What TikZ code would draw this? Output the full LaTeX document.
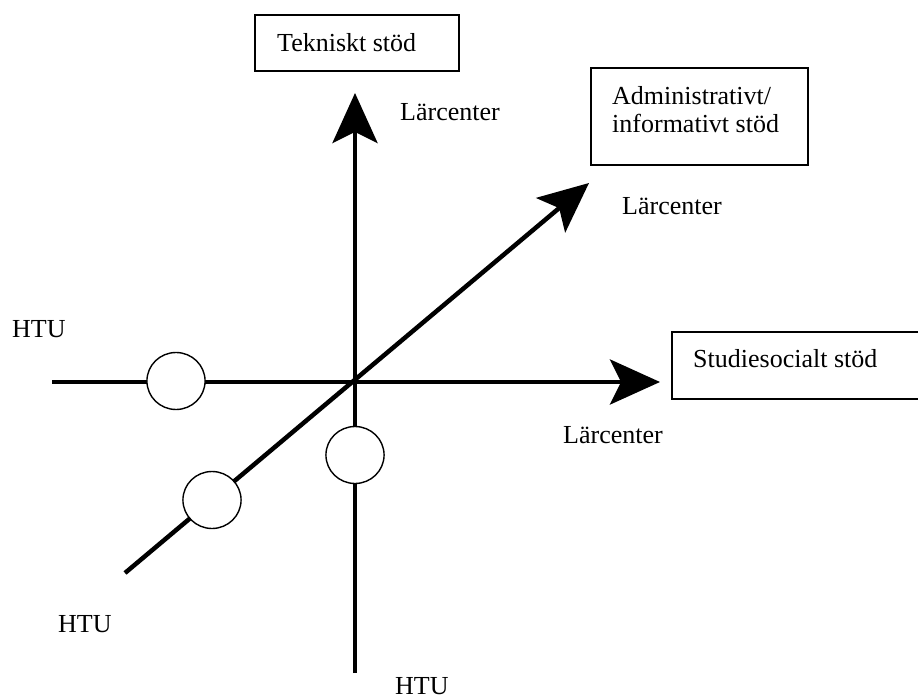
\documentclass[tikz,border=0pt]{standalone}
\usepackage{fontspec}
\setmainfont{Liberation Serif}
\usetikzlibrary{arrows.meta}
\begin{document}
\begin{tikzpicture}[x=1pt,y=-1pt,
  axis/.style={line width=4.5pt, -{Stealth[length=50pt,width=45pt,inset=11pt]}},
  lab/.style={anchor=base west, inner sep=0pt, font=\fontsize{26}{28}\selectfont},
  boxed/.style={draw, line width=1.5pt},
  ring/.style={draw, fill=white, line width=1.4pt, circle, minimum size=57pt, inner sep=0pt, xscale=1.02}]
\useasboundingbox (0,0) rectangle (918,700);
\clip (0,0) rectangle (918,700);
% boxes
\draw[boxed] (255,15) rectangle (459,71);
\draw[boxed] (591,68) rectangle (808,165);
\draw[boxed] (672,332) rectangle (940,399);
\node[lab] (tek) at (277,52) {Tekniskt stöd};
\node[lab] (adm1) at (612,105) {Administrativt/};
\node[lab] (adm2) at (612,133) {informativt stöd};
\node[lab] (stu) at (693,368) {Studiesocialt stöd};
% labels
\node[lab] (l1) at (400,121) {Lärcenter};
\node[lab] (l2) at (622,215) {Lärcenter};
\node[lab] (l3) at (563,443) {Lärcenter};
\node[lab] (h1) at (12,338) {HTU};
\node[lab] (h2) at (58,632) {HTU};
\node[lab] (h3) at (395,694) {HTU};
% axes
\coordinate (O) at (355,382);
\coordinate (hW) at (52,382);
\coordinate (hE) at (660,382);
\coordinate (vS) at (355,673);
\coordinate (vN) at (355,93);
\coordinate (dSW) at (125,573);
\coordinate (dNE) at (589,183);
\draw[axis] (hW) -- (hE);
\draw[axis] (vS) -- (vN);
\draw[axis] (dSW) -- (dNE);
% circles
\node[ring] (c1) at (176,381) {};
\node[ring] (c2) at (355,455) {};
\node[ring] (c3) at (212,500) {};
\end{tikzpicture}
\end{document}
